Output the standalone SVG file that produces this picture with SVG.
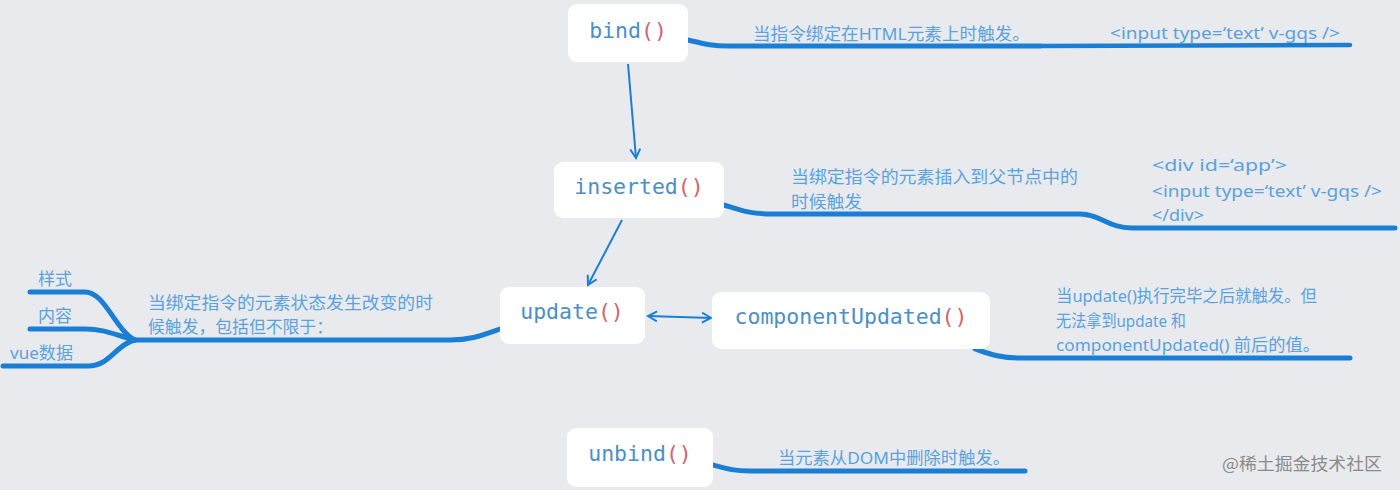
<svg xmlns="http://www.w3.org/2000/svg" width="1400" height="490" viewBox="0 0 1400 490">
<defs>
<style>
.node rect{fill:#ffffff;}
.lbl{font-family:"DejaVu Sans Mono",monospace;font-size:21.5px;fill:#4a8fca;}
.par{fill:#d06470;}
.t{font-family:"Noto Sans","Noto Sans CJK SC",sans-serif;font-size:17px;fill:#5aa2de;}
.branch{fill:none;stroke:#1a7fd4;stroke-width:5;stroke-linecap:round;}
.arrow{fill:none;stroke:#1a7fd4;stroke-width:2;}
</style>
<marker id="ah" viewBox="0 0 12 12" refX="10" refY="6" markerWidth="12" markerHeight="12" markerUnits="userSpaceOnUse" orient="auto-start-reverse">
<path d="M1,1 L10,6 L1,11" fill="none" stroke="#1a7fd4" stroke-width="2"/>
</marker>
</defs>
<rect width="1400" height="490" fill="#e8eaee"/>
<g id="connectors">
<path class="branch" d="M688,40 C705,44 712,46 728,46 L1040,46"/>
<path class="branch" d="M1040,46 L1350,45" style="stroke-width:4.5"/>
<path class="branch" d="M724,205 C740,210 750,214 770,214 L1080,214 C1100,214 1108,228 1132,228 L1395,228"/>
<path class="branch" d="M500,329 C480,336 470,340 450,340 L135,340"/>
<path class="branch" d="M135,340 C115,330 105,292 85,292 L30,292"/>
<path class="branch" d="M135,340 C115,335 105,329 85,329 L30,329"/>
<path class="branch" d="M135,340 C115,345 110,366 88,366 L3,366"/>
<path class="branch" d="M975,349 C990,354 1000,358 1018,358 L1350,358"/>
<path class="branch" d="M713,465 C728,469 735,471 750,471 L1025,471"/>
<path class="arrow" d="M628,64 L636,158" marker-end="url(#ah)"/>
<path class="arrow" d="M622,220 L588,285" marker-end="url(#ah)"/>
<path class="arrow" d="M648,316 L711,318" marker-start="url(#ah)" marker-end="url(#ah)"/>
</g>
<g id="bind" class="node">
<rect x="568" y="4" width="120" height="58" rx="9"/>
<text class="lbl" x="628" y="38" text-anchor="middle">bind<tspan class="par">()</tspan></text>
<text class="t" x="753" y="40" textLength="277" lengthAdjust="spacingAndGlyphs">当指令绑定在HTML元素上时触发。</text>
<text class="t" x="1110" y="39" textLength="230" lengthAdjust="spacingAndGlyphs">&lt;input type=‘text’ v-gqs /&gt;</text>
</g>
<g id="inserted" class="node">
<rect x="554" y="162" width="170" height="56" rx="9"/>
<text class="lbl" x="639" y="194" text-anchor="middle">inserted<tspan class="par">()</tspan></text>
<text class="t" x="791" y="183" textLength="287" lengthAdjust="spacingAndGlyphs">当绑定指令的元素插入到父节点中的</text>
<text class="t" x="791" y="208" textLength="71" lengthAdjust="spacingAndGlyphs">时候触发</text>
<text class="t" x="1152" y="171" textLength="135" lengthAdjust="spacingAndGlyphs">&lt;div id=‘app’&gt;</text>
<text class="t" x="1152" y="197" textLength="230" lengthAdjust="spacingAndGlyphs">&lt;input type=‘text’ v-gqs /&gt;</text>
<text class="t" x="1152" y="221" textLength="52" lengthAdjust="spacingAndGlyphs">&lt;/div&gt;</text>
</g>
<g id="update" class="node">
<rect x="500" y="287" width="145" height="57" rx="9"/>
<text class="lbl" x="572" y="319" text-anchor="middle">update<tspan class="par">()</tspan></text>
<text class="t" x="148" y="309" textLength="285" lengthAdjust="spacingAndGlyphs">当绑定指令的元素状态发生改变的时</text>
<text class="t" x="148" y="333" textLength="185" lengthAdjust="spacingAndGlyphs">候触发，包括但不限于：</text>
<text class="t" x="38" y="285" textLength="34" lengthAdjust="spacingAndGlyphs">样式</text>
<text class="t" x="38" y="322" textLength="34" lengthAdjust="spacingAndGlyphs">内容</text>
<text class="t" x="10" y="359" textLength="63" lengthAdjust="spacingAndGlyphs">vue数据</text>
</g>
<g id="componentUpdated" class="node">
<rect x="712" y="292" width="278" height="57" rx="9"/>
<text class="lbl" x="851" y="324" text-anchor="middle">componentUpdated<tspan class="par">()</tspan></text>
<text class="t" x="1056" y="302" textLength="261" lengthAdjust="spacingAndGlyphs">当update()执行完毕之后就触发。但</text>
<text class="t" x="1056" y="327" textLength="130" lengthAdjust="spacingAndGlyphs">无法拿到update 和</text>
<text class="t" x="1056" y="351" textLength="264" lengthAdjust="spacingAndGlyphs">componentUpdated() 前后的值。</text>
</g>
<g id="unbind" class="node">
<rect x="567" y="428" width="146" height="59" rx="9"/>
<text class="lbl" x="640" y="461" text-anchor="middle">unbind<tspan class="par">()</tspan></text>
<text class="t" x="778" y="464" textLength="232" lengthAdjust="spacingAndGlyphs">当元素从DOM中删除时触发。</text>
</g>
<text x="1222" y="470" textLength="160" lengthAdjust="spacingAndGlyphs" style="font-family:'Noto Sans CJK SC',sans-serif;font-size:17px;fill:#8a8a8a">@稀土掘金技术社区</text>
</svg>
